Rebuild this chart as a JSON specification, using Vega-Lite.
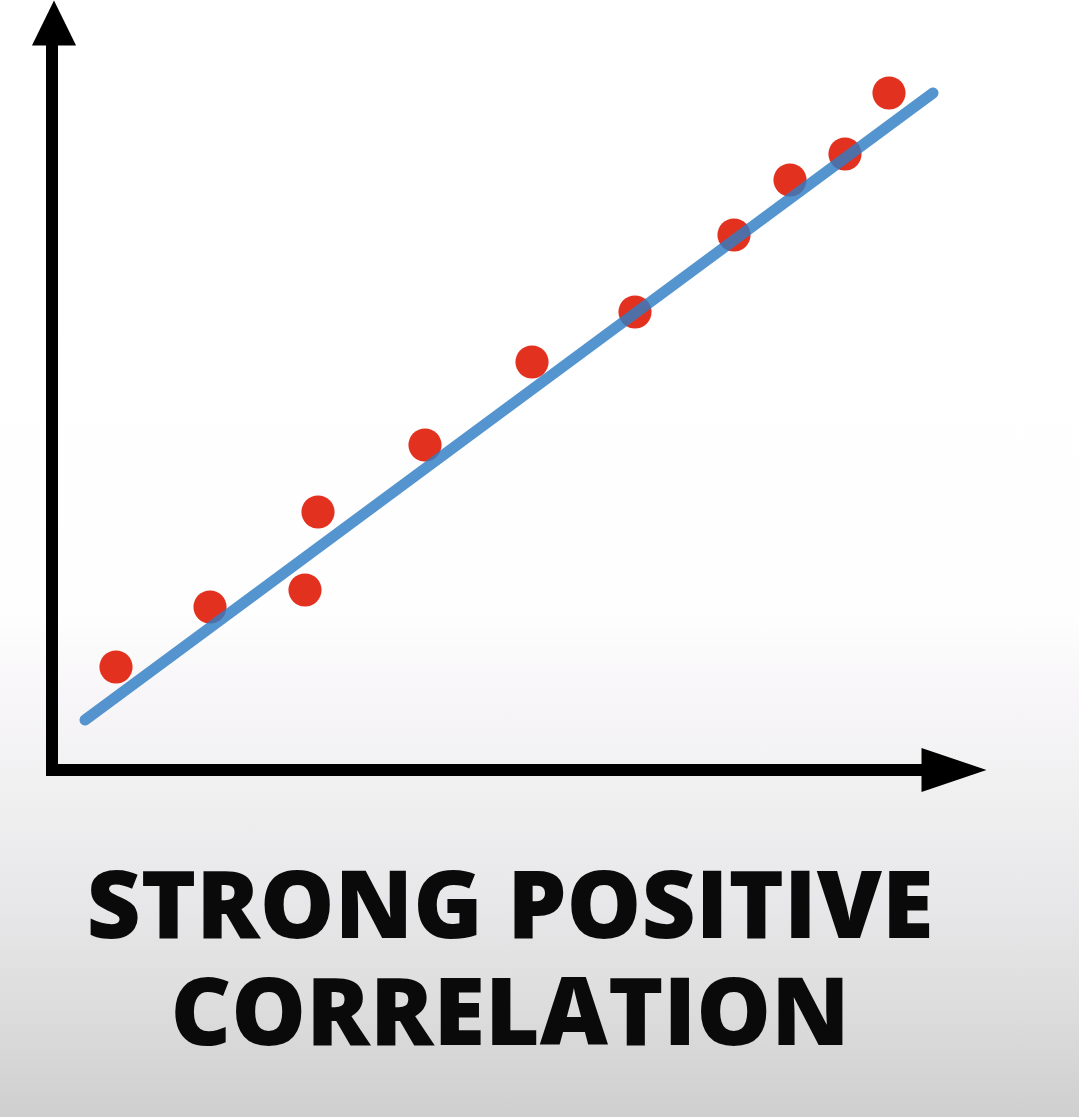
{
  "$schema": "https://vega.github.io/schema/vega-lite/v6.json",
  "width": 1079,
  "height": 1117,
  "autosize": "none",
  "padding": 0,
  "background": "#ffffff",
  "config": {"view": {"stroke": null}},
  "datasets": {
    "bg": [{"x": -5.2, "x2": 102.7, "y": -34.7, "y2": 77.0}],
    "axes": [
      {"axis": "y", "x": 0, "x2": 0, "y": -0.6, "y2": 73.0},
      {"axis": "x", "x": -0.6, "x2": 88.5, "y": 0, "y2": 0}
    ],
    "points": [
      {"x": 6.4, "y": 10.3},
      {"x": 15.8, "y": 16.3},
      {"x": 25.3, "y": 18.0},
      {"x": 26.6, "y": 25.8},
      {"x": 37.3, "y": 32.5},
      {"x": 48.0, "y": 40.8},
      {"x": 58.3, "y": 45.8},
      {"x": 68.2, "y": 53.5},
      {"x": 73.8, "y": 59.0},
      {"x": 79.3, "y": 61.6},
      {"x": 83.7, "y": 67.7}
    ],
    "fit": [{"x": 3.3, "y": 5.0}, {"x": 88.1, "y": 67.7}],
    "arrowY": [{"x": 0.2, "y": 74.7}],
    "arrowX": [{"x": 90.2, "y": 0}],
    "title": [
      {"label": ["STRONG POSITIVE", "CORRELATION"], "x": 45.8, "y": -16.8}
    ]
  },
  "layer": [
    {
      "data": {"name": "bg"},
      "mark": {
        "type": "rect",
        "color": {
          "gradient": "linear", "x1": 0, "y1": 0, "x2": 0, "y2": 1,
          "stops": [
            {"offset": 0, "color": "#ffffff"},
            {"offset": 0.55, "color": "#fefefe"},
            {"offset": 0.62, "color": "#f8f6f8"},
            {"offset": 0.72, "color": "#efeff0"},
            {"offset": 0.81, "color": "#e7e7e9"},
            {"offset": 0.9, "color": "#dddddd"},
            {"offset": 1, "color": "#cfcfcf"}
          ]
        }
      },
      "encoding": {
        "x": {"field": "x", "type": "quantitative", "axis": null, "scale": {"domain": [-5.2, 102.7], "nice": false, "zero": false}},
        "x2": {"field": "x2"},
        "y": {"field": "y", "type": "quantitative", "axis": null, "scale": {"domain": [-34.7, 77.0], "nice": false, "zero": false}},
        "y2": {"field": "y2"}
      }
    },
    {
      "data": {"name": "axes"},
      "mark": {"type": "rule", "color": "#000000", "strokeWidth": 12, "strokeCap": "butt"},
      "encoding": {
        "x": {"field": "x", "type": "quantitative", "axis": null},
        "x2": {"field": "x2"},
        "y": {"field": "y", "type": "quantitative", "axis": null},
        "y2": {"field": "y2"}
      }
    },
    {
      "data": {"name": "arrowY"},
      "mark": {"type": "point", "shape": "M0,-1L0.98,1L-0.98,1Z", "size": 2025, "filled": true, "color": "#000000", "opacity": 1},
      "encoding": {
        "x": {"field": "x", "type": "quantitative", "axis": null},
        "y": {"field": "y", "type": "quantitative", "axis": null}
      }
    },
    {
      "data": {"name": "arrowX"},
      "mark": {"type": "point", "shape": "M1,0L-1,-0.68L-1,0.68Z", "size": 4225, "filled": true, "color": "#000000", "opacity": 1},
      "encoding": {
        "x": {"field": "x", "type": "quantitative", "axis": null},
        "y": {"field": "y", "type": "quantitative", "axis": null}
      }
    },
    {
      "data": {"name": "points"},
      "mark": {"type": "circle", "size": 1100, "color": "#e3311f", "opacity": 1},
      "encoding": {
        "x": {"field": "x", "type": "quantitative", "axis": null},
        "y": {"field": "y", "type": "quantitative", "axis": null}
      }
    },
    {
      "data": {"name": "fit"},
      "mark": {"type": "line", "color": "#2f7ec4", "strokeWidth": 11, "strokeCap": "round", "opacity": 0.82},
      "encoding": {
        "x": {"field": "x", "type": "quantitative", "axis": null},
        "y": {"field": "y", "type": "quantitative", "axis": null}
      }
    },
    {
      "data": {"name": "title"},
      "mark": {"type": "text", "font": "Open Sans", "fontWeight": 800, "fontSize": 94, "lineHeight": 107, "color": "#0a0a0a", "align": "center", "baseline": "alphabetic"},
      "encoding": {
        "x": {"field": "x", "type": "quantitative", "axis": null},
        "y": {"field": "y", "type": "quantitative", "axis": null},
        "text": {"field": "label"}
      }
    }
  ]
}
